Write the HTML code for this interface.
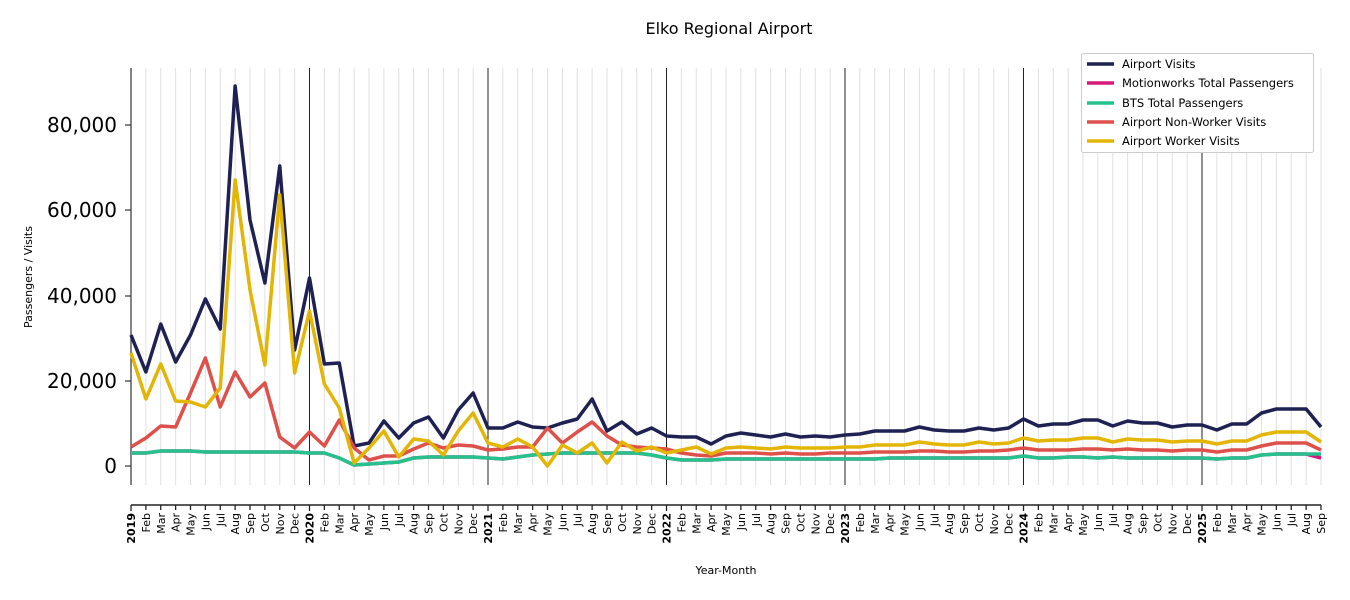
<!DOCTYPE html>
<html><head><meta charset="utf-8"><style>
html,body{margin:0;padding:0;background:#fff;}
svg{display:block;font-family:"DejaVu Sans","Liberation Sans",sans-serif;}
</style></head><body>
<svg id="s" width="1350" height="600" viewBox="0 0 1350 600" xmlns="http://www.w3.org/2000/svg">
<rect width="1350" height="600" fill="#fff"/>
<text x="729" y="34" font-size="16" text-anchor="middle" fill="#000">Elko Regional Airport</text>
<g id="grid"></g>
<line x1="131" y1="68" x2="131" y2="485" stroke="#333" stroke-width="1.2"/>
<g font-size="20" text-anchor="end" fill="#000">
<text x="117" y="132">80,000</text>
<text x="117" y="217">60,000</text>
<text x="117" y="303">40,000</text>
<text x="117" y="388">20,000</text>
<text x="117" y="473">0</text>
</g>
<g stroke="#333" stroke-width="1.2">
<line x1="125" y1="125" x2="131" y2="125"/><line x1="125" y1="210" x2="131" y2="210"/>
<line x1="125" y1="296" x2="131" y2="296"/><line x1="125" y1="381" x2="131" y2="381"/>
<line x1="125" y1="466" x2="131" y2="466"/>
</g>
<text transform="translate(32,277) rotate(-90)" font-size="11" text-anchor="middle">Passengers / Visits</text>
<line x1="131" y1="505" x2="1321" y2="505" stroke="#222" stroke-width="1.5"/>
<g id="xt"></g>
<g id="series"></g>
<text x="726" y="574" font-size="11" text-anchor="middle">Year-Month</text>
<g>
<rect x="1081.5" y="53.5" width="232" height="99" fill="#fff" stroke="#ccc" rx="2"/>
<g stroke-width="3.5">
<line x1="1087" y1="64" x2="1114" y2="64" stroke="#1f2152"/>
<line x1="1087" y1="83" x2="1114" y2="83" stroke="#d6197a"/>
<line x1="1087" y1="103" x2="1114" y2="103" stroke="#26c28e"/>
<line x1="1087" y1="122" x2="1114" y2="122" stroke="#de504a"/>
<line x1="1087" y1="141" x2="1114" y2="141" stroke="#e3b505"/>
</g>
<g font-size="11.5" fill="#000">
<text x="1122" y="68">Airport Visits</text>
<text x="1122" y="87">Motionworks Total Passengers</text>
<text x="1122" y="107">BTS Total Passengers</text>
<text x="1122" y="126">Airport Non-Worker Visits</text>
<text x="1122" y="145">Airport Worker Visits</text>
</g>
</g>
</svg>
<script>
var NS="http://www.w3.org/2000/svg";
function X(i){return 131+14.875*i;}
var navy=[335,372,324,362,335,299,329,86,220,283,166,350,
278,364,363,446,443,421,438,423,417,438,410,393,
428,428,422,427,428,423,419,399,431,422,434,428,
436,437,437,444,436,433,435,437,434,437,436,437,
435,434,431,431,431,427,430,431,431,428,430,428,
419,426,424,424,420,420,426,421,423,423,427,425,
425,430,424,424,413,409,409,409,427];
var yel=[353,399,364,401,402,407,388,180,290,365,195,373,
311,384,408,463,448,431,457,439,441,455,431,413,
443,447,439,447,466,445,453,443,463,442,451,447,
453,450,447,454,448,447,448,449,447,448,448,448,
447,447,445,445,445,442,444,445,445,442,444,443,
438,441,440,440,438,438,442,439,440,440,442,441,
441,444,441,441,435,432,432,432,442];
var red=[447,438,426,427,393,358,407,372,397,383,437,448,
432,446,420,448,460,456,456,449,443,448,445,446,
450,449,447,447,428,443,432,422,436,445,447,448,
449,453,455,456,453,453,453,454,453,454,454,453,
453,453,452,452,452,451,451,452,452,451,451,450,
448,450,450,450,449,449,450,449,450,450,451,450,
450,452,450,450,446,443,443,443,450];
var grn=[453,453,451,451,451,452,452,452,452,452,452,452,
453,453,458,465,464,463,462,458,457,457,457,457,
458,459,457,455,454,453,453,453,453,453,453,455,
458,460,460,460,459,459,459,459,459,459,459,459,
459,459,459,458,458,458,458,458,458,458,458,458,
456,458,458,457,457,458,457,458,458,458,458,458,
458,459,458,458,455,454,454,454,454];
var mag=grn.slice();mag[80]=458;
var grid=document.getElementById("grid"),xt=document.getElementById("xt"),ser=document.getElementById("series");
var mn=["Jan","Feb","Mar","Apr","May","Jun","Jul","Aug","Sep","Oct","Nov","Dec"];
for(var i=0;i<=80;i++){
 var x=X(i),yr=(i%12==0);
 if(i>0){var l=document.createElementNS(NS,"line");
 l.setAttribute("x1",x);l.setAttribute("x2",x);l.setAttribute("y1",68);l.setAttribute("y2",485);
 l.setAttribute("stroke",yr?"#222":"#e0e0e0");l.setAttribute("stroke-width",1);grid.appendChild(l);}
 var t=document.createElementNS(NS,"line");
 t.setAttribute("x1",x);t.setAttribute("x2",x);t.setAttribute("y1",505);t.setAttribute("y2",yr?511:510);
 t.setAttribute("stroke","#222");t.setAttribute("stroke-width",1.3);xt.appendChild(t);
 var tx=document.createElementNS(NS,"text");
 tx.setAttribute("transform","translate("+(x+4)+",513) rotate(-90)");
 tx.setAttribute("text-anchor","end");tx.setAttribute("font-size","11");
 if(yr){tx.setAttribute("font-weight","bold");tx.textContent=String(2019+i/12);}else tx.textContent=mn[i%12];
 xt.appendChild(tx);
}
function pl(d,c){var p=document.createElementNS(NS,"polyline");var s=[];
 for(var i=0;i<d.length;i++)s.push(X(i).toFixed(2)+","+d[i]);
 p.setAttribute("points",s.join(" "));p.setAttribute("fill","none");p.setAttribute("stroke",c);
 p.setAttribute("stroke-width","3.5");p.setAttribute("stroke-linejoin","round");ser.appendChild(p);}
pl(navy,"#1f2152");pl(mag,"#d6197a");pl(grn,"#26c28e");pl(red,"#de504a");pl(yel,"#e3b505");
</script>
</body></html>
